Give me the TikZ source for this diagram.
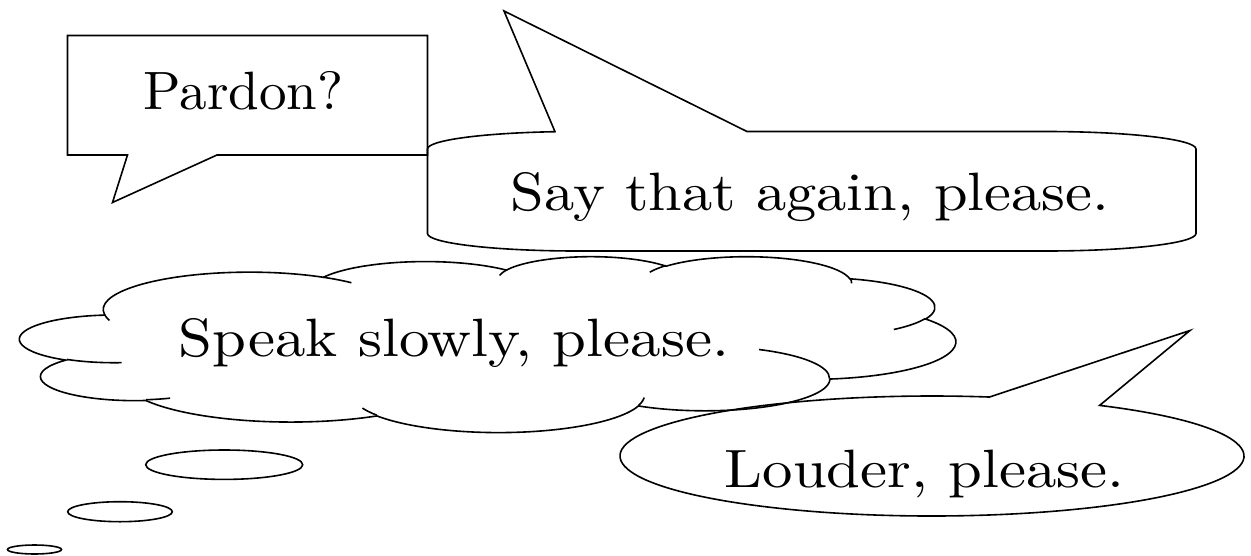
\documentclass[tikz,border=0pt]{standalone}
\usepackage{graphicx}
\usetikzlibrary{calc}

% Latin Modern at its 10pt design, scaled up for the speech texts
\font\talkfont="[lmroman10-regular]:mapping=tex-text" at 54pt

% Elliptical arcs given by radii and by start/sweep angles measured as
% ray directions (the angle of the point seen from the centre); they are
% turned into TikZ's parametric angles and appended to a path macro.
\makeatletter
\newcommand\cloudarcs{}
\newcommand\cloudhooks{}
\newcommand\cldarcto[5]{% #1 macro, #2 x radius, #3 y radius, #4 start, #5 sweep
  \pgfmathsetmacro\cld@a{atan2((#2)*sin(#4),(#3)*cos(#4))}%
  \pgfmathsetmacro\cld@b{atan2((#2)*sin((#4)+(#5)),(#3)*cos((#4)+(#5)))}%
  \pgfmathsetmacro\cld@d{mod(\cld@b-(\cld@a)+720,360)}%
  \xdef#1{#1 arc[start angle=\cld@a,delta angle=\cld@d,x radius=#2,y radius=#3]}%
}
\newcommand\cldhook[6]{% #1,#2 start point, then radii, start, sweep
  \xdef\cloudhooks{\cloudhooks (#1,#2)}%
  \cldarcto\cloudhooks{#3}{#4}{#5}{#6}%
}
\makeatother

\begin{document}

% outline of the thought cloud, eleven lobes
\cldarcto\cloudarcs{67.53}{91.90}{-190.48748}{123.78053}
\cldarcto\cloudarcs{53.33}{72.67}{-144.10238}{89.94523}
\cldarcto\cloudarcs{43.65}{59.45}{-145.80792}{99.72302}
\cldarcto\cloudarcs{48.57}{65.95}{-130.98607}{117.24173}
\cldarcto\cloudarcs{53.33}{72.73}{-78.70888}{109.02692}
\cldarcto\cloudarcs{67.75}{92.20}{-46.26725}{130.26900}
\cldarcto\cloudarcs{57.85}{78.67}{0.62502}{114.03333}
\cldarcto\cloudarcs{67.52}{92.15}{22.45160}{115.17255}
\cldarcto\cloudarcs{77.20}{105.43}{66.24263}{75.71102}
\cldarcto\cloudarcs{43.60}{59.18}{-274.94208}{146.73557}
\cldarcto\cloudarcs{43.45}{59.45}{-246.82850}{152.51885}

% short inner continuations of the lobes
\cldhook{46.93}{261.77}{43.45}{59.45}{86.74200}{26.42950}
\cldhook{69.28}{348.99}{43.60}{59.18}{73.61047}{11.44747}
\cldhook{164.78}{390.90}{67.52}{92.15}{137.62415}{14.08110}
\cldhook{288.27}{347.51}{67.52}{92.15}{6.45327}{15.99835}
\cldhook{341.29}{229.54}{57.85}{78.67}{-70.29235}{70.91737}
\cldhook{417.98}{153.54}{53.33}{72.73}{30.31803}{27.75150}
\cldhook{383.24}{54.26}{48.57}{65.95}{-13.74433}{14.85890}
\cldhook{290.78}{39.52}{48.57}{65.95}{-149.18145}{18.19537}
\cldhook{221.41}{47.20}{43.65}{59.45}{-163.49427}{17.68635}
\cldhook{140.00}{51.92}{67.53}{91.90}{-66.70695}{12.31935}
\cldhook{41.27}{157.89}{67.53}{91.90}{157.65435}{11.85817}

\begin{tikzpicture}[x=1pt,y=-1pt,
  outline/.style={draw=black,line width=1.6pt,line join=miter},
  saying/.style={inner sep=0pt,anchor=base,font=\talkfont},
]
\useasboundingbox[fill=white] (0,0) rectangle (1251,555);

% rectangular callout
\coordinate (pardontip) at (112.5,202.5);
\draw[outline] (67.5,35.5) -- (427.5,35.5) -- (427.5,155) -- (217,155)
  -- (pardontip) -- (127.5,155) -- (67.5,155) -- cycle;
\node[saying] (pardon) at (243.5,109.3) {\scalebox{1.02}[1]{Pardon?}};

% rounded callout, flat elliptical corners
\coordinate (againtip) at (504,11);
\draw[outline] (427.5,233.5) -- (427.5,149)
  arc[start angle=180,delta angle=81.37,x radius=150,y radius=17.5]
  -- (againtip) -- (747,131.5) -- (1046,131.5)
  arc[start angle=270,delta angle=90,x radius=150,y radius=17.5]
  -- (1196,233.5)
  arc[start angle=0,delta angle=90,x radius=150,y radius=17.5]
  -- (577.5,251)
  arc[start angle=90,delta angle=90,x radius=150,y radius=17.5]
  -- cycle;
\node[saying] (again) at (810,210) {\scalebox{1.12}[1]{Say that again, please.}};

% thought cloud
\begin{scope}[shift={(20.1,256.1)},xscale=2.1654,yscale=0.40705]
  \draw[outline] (39,143.7) \cloudarcs -- cycle;
  \draw[outline] \cloudhooks;
\end{scope}
\node[saying] (slowly) at (454,356.5) {\scalebox{1.127}[1]{Speak slowly, please.}};

% bubbles trailing from the cloud
\draw[outline] (224.2,464.7) ellipse [x radius=78.5,y radius=14.7];
\draw[outline] (120,511.7) ellipse [x radius=52.3,y radius=10];
\draw[outline] (34.5,549.5) ellipse [x radius=27,y radius=4.5];

% elliptical callout
\coordinate (loudc) at (932,456);
\coordinate (loudtip) at (1190,330.5);
\draw[outline] ($(loudc)+(-57.5:312 and 60)$)
  arc[start angle=-57.5,delta angle=338.12,x radius=312,y radius=60]
  -- (loudtip) -- cycle;
\node[saying] (louder) at (924.5,487) {\scalebox{1.125}[1]{Louder, please.}};
\end{tikzpicture}
\end{document}
